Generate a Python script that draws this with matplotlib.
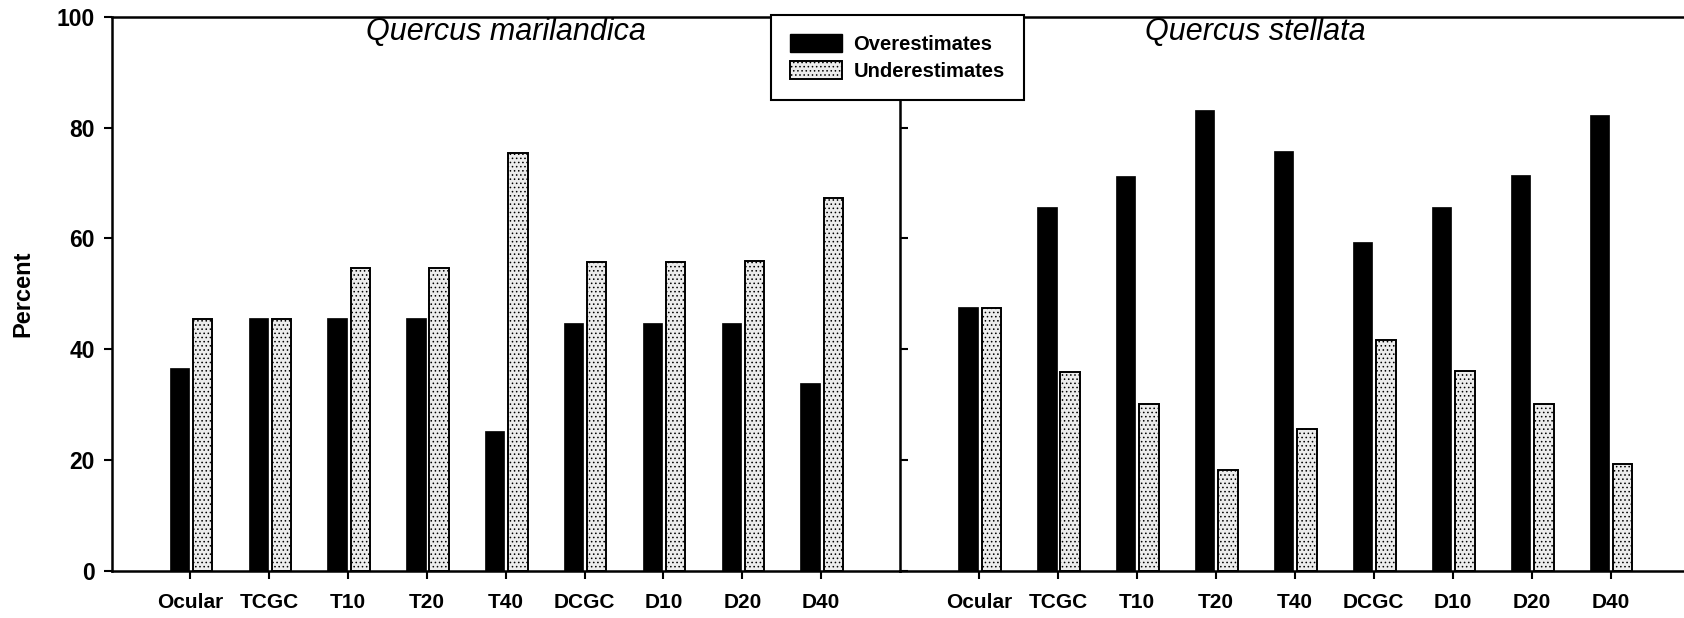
import numpy as np
import matplotlib.pyplot as plt
from matplotlib.patches import Patch

plt.rcParams['font.family'] = ['Liberation Sans', 'DejaVu Sans']
plt.rcParams['hatch.linewidth'] = 0.6
plt.rcParams['hatch.color'] = '#7a7a7a'

# Percent of over/under estimates per method
methods = ["Ocular", "TCGC", "T10", "T20", "T40", "DCGC", "D10", "D20", "D40"]
marilandica_over = [36.6, 45.6, 45.6, 45.6, 25.2, 44.7, 44.7, 44.8, 33.9]
marilandica_under = [45.4, 45.5, 54.6, 54.6, 75.4, 55.8, 55.8, 55.9, 67.3]
stellata_over = [47.6, 65.6, 71.3, 83.2, 75.8, 59.4, 65.6, 71.5, 82.3]
stellata_under = [47.5, 35.9, 30.1, 18.1, 25.6, 41.7, 36.0, 30.1, 19.3]

W, H = 1684, 618
fig = plt.figure(figsize=(W / 100, H / 100), dpi=100)

bottom = 1 - 570.5 / H
height = (570.5 - 17) / H
x0 = 111.5 / W
xdiv = 900 / W
ax1 = fig.add_axes([x0, bottom, xdiv - x0, height])
ax2 = fig.add_axes([xdiv, bottom, 1 - xdiv, height], sharey=ax1)

x = np.arange(len(methods))
bw = 0.245
under_style = dict(facecolor='#ececec', edgecolor='black', linewidth=1.4, hatch='....')

panels = [
    (ax1, marilandica_over, marilandica_under, "Quercus marilandica", 4.0, (-1, 9)),
    (ax2, stellata_over, stellata_under, "Quercus stellata", 3.5, (-1, 8.93)),
]
for ax, over, under, title, tx, xl in panels:
    ax.bar(x - 0.14, over, bw, color='black', edgecolor='black', linewidth=0.5)
    ax.bar(x + 0.155, under, bw, **under_style)
    ax.set_xlim(*xl)
    ax.set_ylim(0, 100)
    ax.set_xticks(x)
    ax.set_xticklabels(methods, fontsize=15, fontweight='bold')
    ax.tick_params(axis='x', direction='out', length=6, width=1.5, pad=10)
    ax.spines['right'].set_visible(False)
    for s in ['left', 'top', 'bottom']:
        ax.spines[s].set_linewidth(1.8)
    ax.text(tx, 95.9, title, fontsize=22, style='italic', ha='center', va='baseline')

ax1.set_yticks(np.arange(0, 101, 20))
ax1.tick_params(axis='y', direction='out', length=6, width=1.5, pad=6,
                labelsize=16.5)
for lab in ax1.get_yticklabels():
    lab.set_fontweight('bold')
ax1.set_ylabel("Percent", fontsize=17, fontweight='bold', labelpad=16)

# divider axis with inward ticks, no labels
ax2.tick_params(axis='y', direction='in', length=6, width=1.5, labelleft=False)

handles = [Patch(facecolor='black', edgecolor='black'),
           Patch(**under_style)]
fig.legend(handles, ["Overestimates", "Underestimates"],
           loc='upper left', bbox_to_anchor=(771 / W, 1 - 15 / H),
           bbox_transform=fig.transFigure, borderaxespad=0,
           prop={'size': 14.5, 'weight': 'bold'},
           handlelength=2.6, handleheight=0.95, handletextpad=0.55,
           labelspacing=0.38, borderpad=0.95,
           frameon=True, fancybox=False, edgecolor='black', framealpha=1)
fig.legends[0].get_frame().set_linewidth(1.5)

plt.savefig("out.png", dpi=100)
